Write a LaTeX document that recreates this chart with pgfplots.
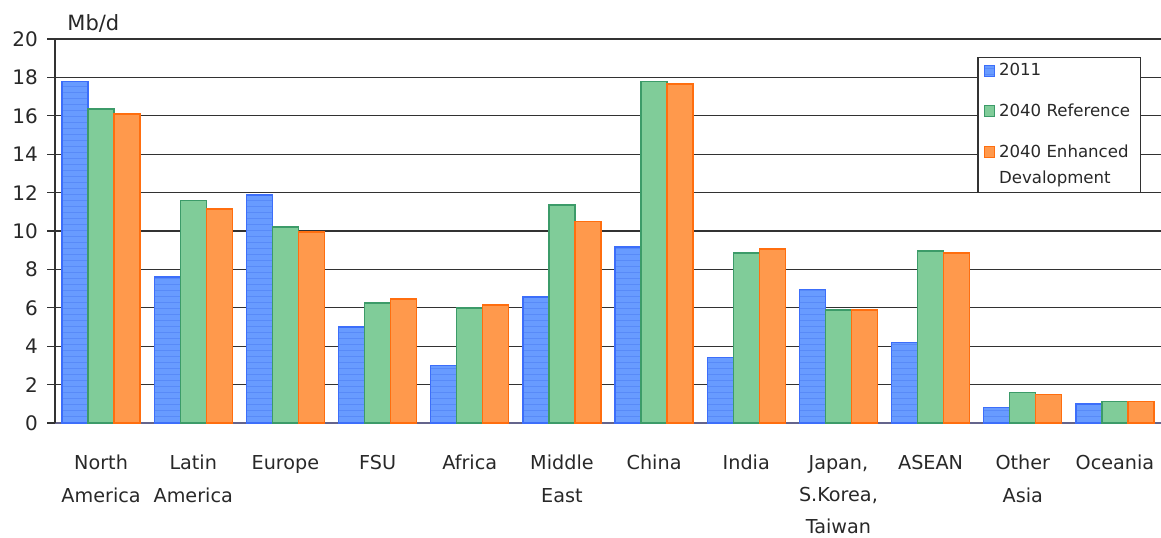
\documentclass[border=0pt]{standalone}
\usepackage{pgfplots}
\pgfplotsset{compat=1.18}
\usetikzlibrary{patterns}
\usepackage{fontspec}
\setmainfont{DejaVu Sans}
\definecolor{bfill}{RGB}{104,155,255}
\definecolor{bstripe}{RGB}{88,138,248}
\definecolor{bdraw}{RGB}{60,110,250}
\definecolor{gfill}{RGB}{128,204,153}
\definecolor{gdraw}{RGB}{60,155,105}
\definecolor{ofill}{RGB}{255,153,76}
\definecolor{odraw}{RGB}{255,110,15}
\definecolor{gridc}{RGB}{50,50,50}
\definecolor{xaxc}{RGB}{100,100,140}
\definecolor{txt}{RGB}{40,40,40}
\begin{document}
\begin{tikzpicture}
\useasboundingbox (-27.5pt,-57pt) rectangle (553pt,211.5pt);
\begin{axis}[
  at={(0pt,0pt)}, anchor=south west,
  scale only axis,
  width=553pt, height=192pt,
  ybar=0pt, bar width=13pt,
  xmin=-0.5, xmax=11.5,
  ymin=0, ymax=20,
  ytick={0,2,...,20},
  xtick={0,...,11},
  xticklabels={North\\America,Latin\\America,Europe,FSU,Africa,Middle\\East,China,India,{Japan,\\S.Korea,\\Taiwan},ASEAN,Other\\Asia,Oceania},
  xticklabel style={align=center, font=\fontsize{9.6}{16.2}\selectfont, text=txt, yshift=-8.5pt},
  yticklabel style={font=\fontsize{10}{12}\selectfont, text=txt, xshift=-1pt},
  /pgf/number format/assume math mode=true,
  axis x line*=bottom,
  axis y line*=left,
  x axis line style={color=xaxc, line width=0.8pt},
  y axis line style={color=gridc, line width=0.6pt},
  major x tick style={draw=none},
  y tick style={color=gridc, line width=0.6pt},
  major tick length=4pt,
  tick align=outside,
  ymajorgrids,
  grid style={color=gridc, line width=0.6pt},
  legend style={at={(0.834,0.953)}, anchor=north west, draw=gridc, line width=0.6pt,
    font=\fontsize{8.3}{13}\selectfont, text=txt, row sep=8.5pt, inner ysep=1pt, inner xsep=3pt,
    cells={anchor=west, align=left}},
  legend image code/.code={\draw[#1, line width=0.5pt] (0pt,-2.5pt) rectangle (5pt,3pt);},
  clip=false,
]
\addplot[fill=bfill, draw=bdraw, line width=0.7pt, postaction={pattern=horizontal lines, pattern color=bstripe}] coordinates {
(0,17.8) (1,7.6) (2,11.87) (3,5.0) (4,3.0) (5,6.56) (6,9.17) (7,3.4) (8,6.94) (9,4.2) (10,0.8) (11,0.98)};
\addplot[fill=gfill, draw=gdraw, line width=0.7pt] coordinates {
(0,16.35) (1,11.6) (2,10.2) (3,6.25) (4,6.0) (5,11.35) (6,17.8) (7,8.85) (8,5.88) (9,8.95) (10,1.6) (11,1.13)};
\addplot[fill=ofill, draw=odraw, line width=0.7pt,
  legend image code/.code={\draw[fill=ofill, draw=odraw, line width=0.5pt] (0pt,4pt) rectangle (5pt,9.5pt);}] coordinates {
(0,16.1) (1,11.15) (2,9.95) (3,6.46) (4,6.15) (5,10.5) (6,17.65) (7,9.06) (8,5.88) (9,8.85) (10,1.5) (11,1.13)};
\legend{2011,2040 Reference,{2040 Enhanced\\Devalopment}}
\node[anchor=south west, font=\fontsize{10.5}{12}\selectfont, text=txt, inner sep=1pt] at (rel axis cs:0,1) [xshift=5pt, yshift=2pt] {Mb/d};
\end{axis}
\end{tikzpicture}
\end{document}
